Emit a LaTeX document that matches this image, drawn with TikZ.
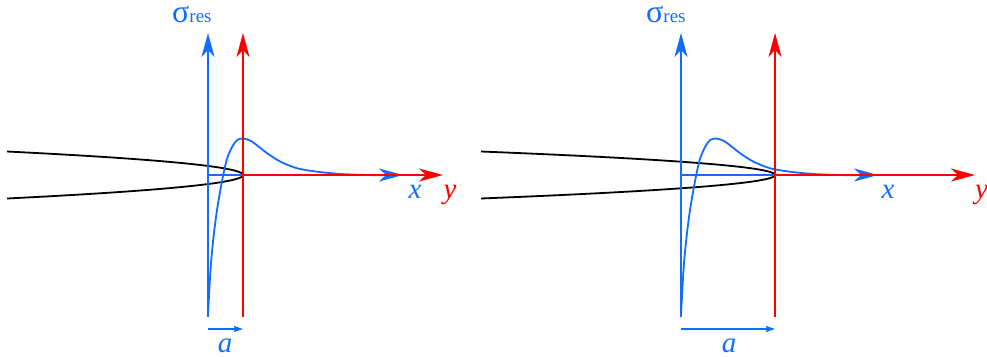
\documentclass[tikz,border=0pt]{standalone}
\usepackage{fontspec}
\setmainfont{Liberation Serif}
\usetikzlibrary{arrows.meta}
\definecolor{bl}{RGB}{18,108,255}
\definecolor{rd}{RGB}{255,0,0}
\tikzset{
  ax/.style={line width=1.8pt, -{Stealth[length=24pt,width=13pt,inset=7pt]}},
  blueax/.style={ax, draw=bl},
  redax/.style={ax, draw=rd},
  crack/.style={line width=1.8pt, draw=black},
  curve/.style={line width=1.8pt, draw=bl},
  darrow/.style={line width=1.5pt, draw=bl, -{Stealth[length=9pt,width=6pt,inset=1pt]}},
  lab/.style={inner sep=0pt, anchor=base, font=\fontsize{29}{29}\selectfont\itshape},
  sig/.style={inner sep=0pt, anchor=base west, text=bl}
}
\newcommand{\sigres}{{\fontsize{32}{32}\selectfont σ}{\fontsize{19}{19}\selectfont res}}
\begin{document}
\begin{tikzpicture}[x=1pt,y=-1pt]
\useasboundingbox (0,0) rectangle (987,356);
% ---------- left panel ----------
\begin{scope}
\coordinate (Lb0) at (208,317);
\coordinate (Lb1) at (208,33);
\coordinate (Lr0) at (243,317);
\coordinate (Lr1) at (243,33);
\coordinate (Lhb0) at (208,175);
\coordinate (Lhb1) at (403,175);
\coordinate (Lhr0) at (243,175);
\coordinate (Lhr1) at (443,175);
\coordinate (La0) at (208,329);
\coordinate (La1) at (243,329);
\draw[crack] plot[domain=-23.5:23.5,samples=80,smooth] ({243-236*(\x/23.5)^2},{175+\x});
\draw[blueax] (Lb0) -- (Lb1);
\draw[blueax] (Lhb0) -- (Lhb1);
\draw[curve] plot[smooth] coordinates {(208,315) (210.5,270) (213.2,240) (216.5,213.3) (219.8,193.3) (223.2,175) (227.2,158.3) (232.2,146.7) (237.2,140) (243,138.5) (250.5,140.7) (258.8,146.7) (267.2,153.3) (280.5,161.7) (297.2,168.3) (317,171.7) (340.5,174) (367,175) (384,175.3)};
\draw[redax] (Lhr0) -- (Lhr1);
\draw[redax] (Lr0) -- (Lr1);
\draw[darrow] (La0) -- (La1);
\node[sig] (Lsig) at (172,22) {\sigres};
\node[lab, text=bl] (Lx) at (415,198) {x};
\node[lab, text=rd] (Ly) at (450,198) {y};
\node[lab, text=bl] (La) at (225,352) {a};
\end{scope}
% ---------- right panel ----------
\begin{scope}
\coordinate (Rb0) at (681,317);
\coordinate (Rb1) at (681,33);
\coordinate (Rr0) at (775,317);
\coordinate (Rr1) at (775,33);
\coordinate (Rhb0) at (681,175);
\coordinate (Rhb1) at (878,175);
\coordinate (Rhr0) at (775,175);
\coordinate (Rhr1) at (975,175);
\coordinate (Ra0) at (681,329);
\coordinate (Ra1) at (775,329);
\draw[crack] plot[domain=-23.5:23.5,samples=80,smooth] ({775-294*(\x/23.5)^2},{175+\x});
\draw[blueax] (Rb0) -- (Rb1);
\draw[blueax] (Rhb0) -- (Rhb1);
\draw[curve] plot[smooth] coordinates {(681,315) (683.5,270) (686.2,240) (689.5,213.3) (692.8,193.3) (696.2,175) (700.2,158.3) (705.2,146.7) (710.2,140) (716,138.5) (723.5,140.7) (731.8,146.7) (740.2,153.3) (753.5,161.7) (770.2,168.3) (790,171.7) (813.5,174) (840,175) (857,175.3)};
\draw[redax] (Rhr0) -- (Rhr1);
\draw[redax] (Rr0) -- (Rr1);
\draw[darrow] (Ra0) -- (Ra1);
\node[sig] (Rsig) at (646,22) {\sigres};
\node[lab, text=bl] (Rx) at (888,198) {x};
\node[lab, text=rd, anchor=base west] (Ry) at (975,198) {y};
\node[lab, text=bl] (Ra) at (729,352) {a};
\end{scope}
\end{tikzpicture}
\end{document}
